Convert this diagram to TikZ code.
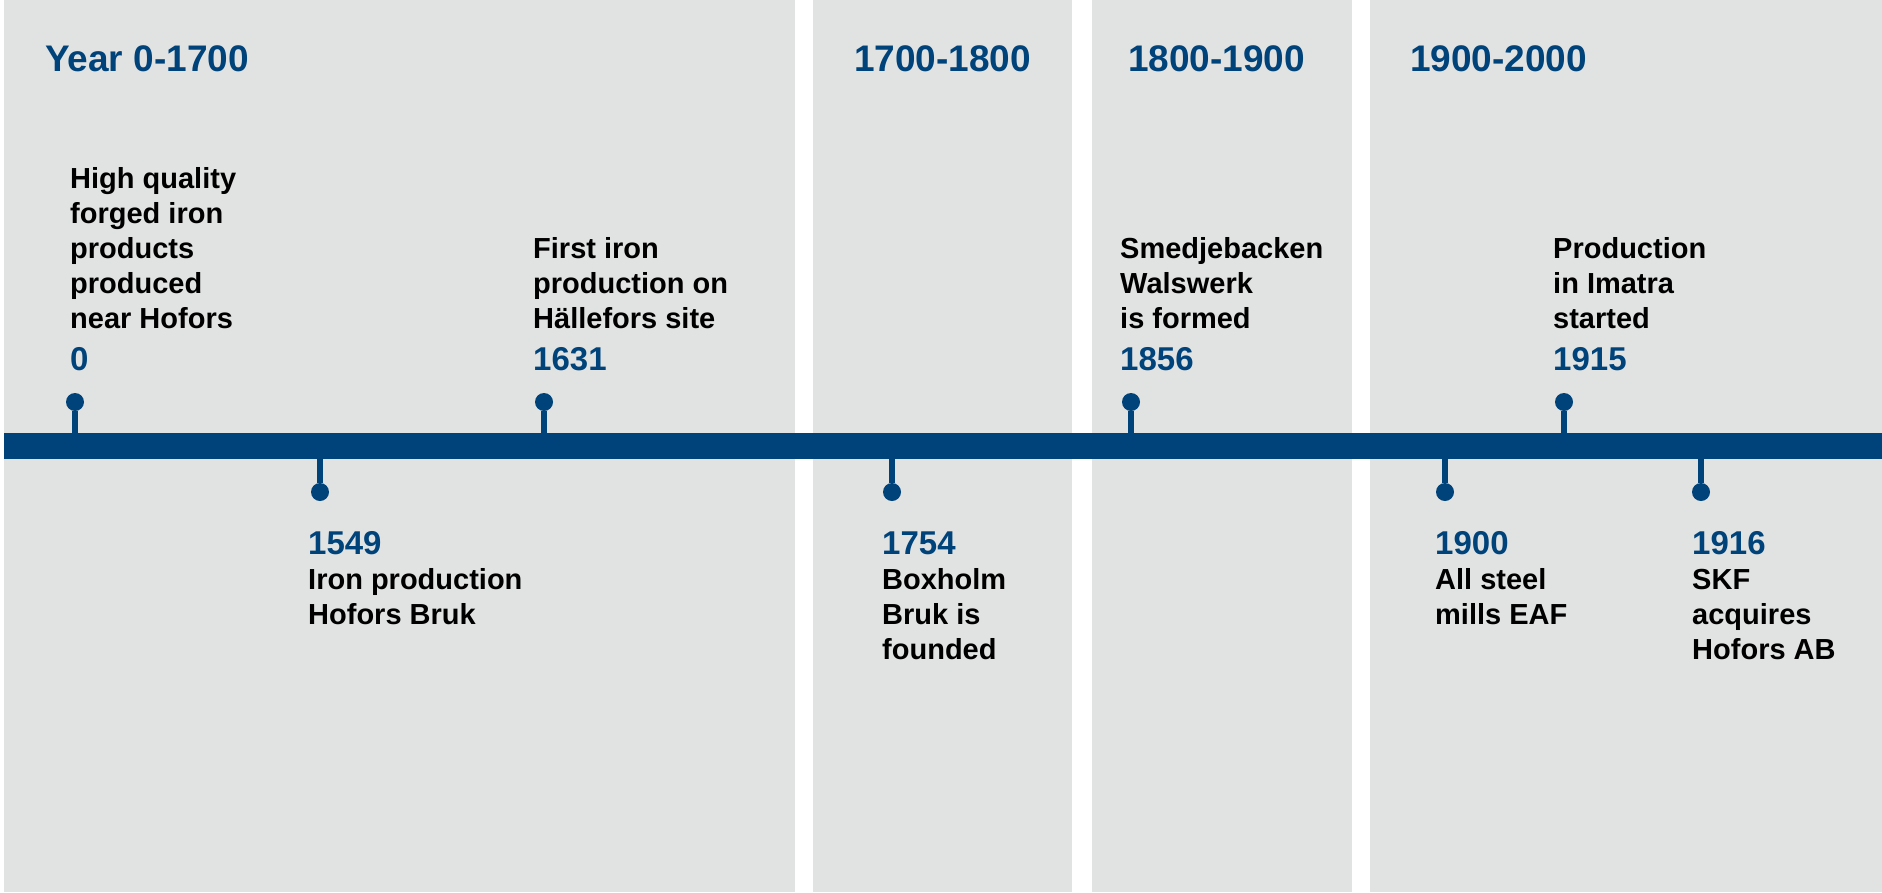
\documentclass[tikz,border=0pt]{standalone}
\usepackage{fontspec}
\setmainfont{Liberation Sans}
\usetikzlibrary{positioning}
\definecolor{ironblue}{RGB}{0,67,122}
\definecolor{periodgrey}{RGB}{225,227,226}
\tikzset{
  period/.style={fill=periodgrey},
  periodtitle/.style={anchor=base west, inner sep=0pt, text=ironblue, font=\fontsize{37}{44}\selectfont\bfseries},
  eventtext/.style={anchor=base west, inner sep=0pt, align=left, font=\fontsize{29}{35}\selectfont\bfseries},
  eventyear/.style={anchor=base west, inner sep=0pt, text=ironblue, font=\fontsize{33}{40}\selectfont\bfseries},
  eventdot/.style={circle, fill=ironblue, inner sep=0pt, minimum size=18pt},
  eventstem/.style={draw=ironblue, line width=6pt},
}

\begin{document}
\begin{tikzpicture}[x=1pt,y=-1pt]
			%%%%% START %%%%%
			\useasboundingbox (0,0) rectangle (1882,892);
			
			\fill[period] (4,0) rectangle (795,892);
			\fill[period] (813,0) rectangle (1072,892);
			\fill[period] (1092,0) rectangle (1352,892);
			\fill[period] (1370,0) rectangle (1882,892);
			
			\node[periodtitle] (t0) at (45,71) {Year 0-1700};
			\node[periodtitle] (t1700) at (854,71) {1700-1800};
			\node[periodtitle] (t1800) at (1128,71) {1800-1900};
			\node[periodtitle] (t1900) at (1410,71) {1900-2000};
			
			\node[fill=ironblue, inner sep=0pt, minimum width=1878pt, minimum height=26pt, anchor=north west] (axis) at (4,433) {};
			
			% above the axis (text base = last line)
			\node[eventdot] (d0) at (75,402) {};
			\draw[eventstem] (d0) -- (d0 |- axis.north);
			\node[eventyear] (y0) at (70,370) {0};
			\node[eventtext] (e0) at (70,328) {High quality\\forged iron\\products\\produced\\near Hofors};
			
			\node[eventdot] (d1631) at (544,402) {};
			\draw[eventstem] (d1631) -- (d1631 |- axis.north);
			\node[eventyear] (y1631) at (533,370) {1631};
			\node[eventtext] (e1631) at (533,328) {First iron\\production on\\Hällefors site};
			
			\node[eventdot] (d1856) at (1131,402) {};
			\draw[eventstem] (d1856) -- (d1856 |- axis.north);
			\node[eventyear] (y1856) at (1120,370) {1856};
			\node[eventtext] (e1856) at (1120,328) {Smedjebacken\\Walswerk\\is formed};
			
			\node[eventdot] (d1915) at (1564,402) {};
			\draw[eventstem] (d1915) -- (d1915 |- axis.north);
			\node[eventyear] (y1915) at (1553,370) {1915};
			\node[eventtext] (e1915) at (1553,328) {Production\\in Imatra\\started};
			
			% below the axis
			\node[eventdot] (d1549) at (320,492) {};
			\draw[eventstem] (d1549) -- (d1549 |- axis.south);
			\node[eventyear] (y1549) at (308,554) {1549};
			\node[eventtext] (e1549) at (308,624) {Iron production\\Hofors Bruk};
			
			\node[eventdot] (d1754) at (892,492) {};
			\draw[eventstem] (d1754) -- (d1754 |- axis.south);
			\node[eventyear] (y1754) at (882,554) {1754};
			\node[eventtext] (e1754) at (882,659) {Boxholm\\Bruk is\\founded};
			
			\node[eventdot] (d1900) at (1445,492) {};
			\draw[eventstem] (d1900) -- (d1900 |- axis.south);
			\node[eventyear] (y1900) at (1435,554) {1900};
			\node[eventtext] (e1900) at (1435,624) {All steel\\mills EAF};
			
			\node[eventdot] (d1916) at (1701,492) {};
			\draw[eventstem] (d1916) -- (d1916 |- axis.south);
			\node[eventyear] (y1916) at (1692,554) {1916};
			\node[eventtext] (e1916) at (1692,659) {SKF\\acquires\\Hofors AB};
			
			%%%%% END %%%%%
\end{tikzpicture}
\end{document}
